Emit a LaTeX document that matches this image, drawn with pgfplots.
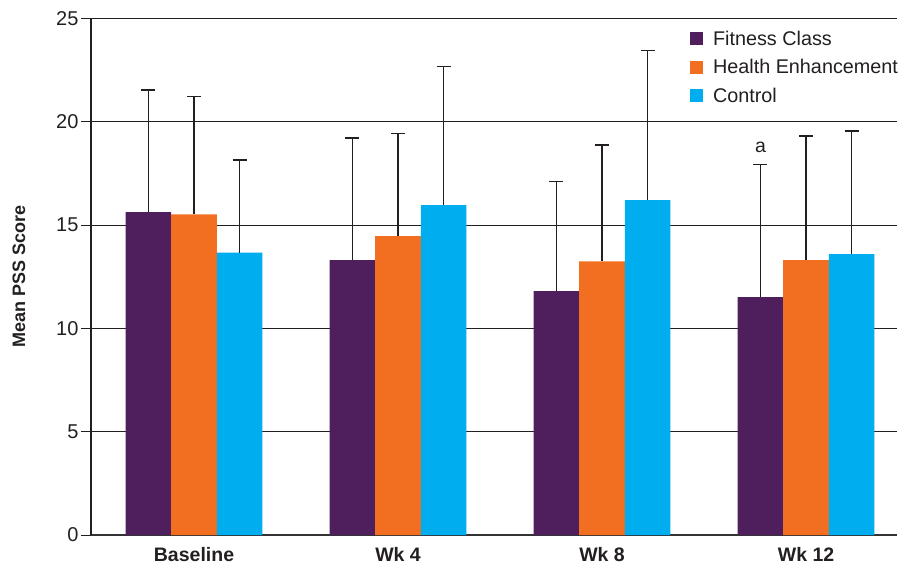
\documentclass[border=0pt]{standalone}
\usepackage{fontspec}
\setmainfont{Liberation Sans}
\usepackage{pgfplots}
\pgfplotsset{compat=1.18}

\definecolor{fitness}{HTML}{4F1F5D}
\definecolor{health}{HTML}{F26F22}
\definecolor{control}{HTML}{00AEEF}
\definecolor{ink}{HTML}{231F20}

\begin{document}
\begin{tikzpicture}[x=1pt,y=1pt]
\useasboundingbox (0,0) rectangle (899,565);
\begin{axis}[
at={(91pt,30pt)},
anchor=south west,
scale only axis,
width=806pt,
height=516.5pt,
xmin=-0.505, xmax=3.446,
ymin=0, ymax=25,
ytick={0,5,10,15,20,25},
xtick={0,1,2,3},
xticklabels={Baseline, Wk 4, Wk 8, Wk 12},
axis x line*=bottom,
axis y line*=left,
axis line style={ink, line width=1.2pt, -},
x axis line style={line width=2pt, color=black!80},
ymajorgrids,
grid style={ink, line width=1pt},
ytick style={ink, line width=1pt},
tick align=outside,
major tick length=10pt,
xtick style={draw=none},
/pgf/number format/assume math mode=true,
yticklabel style={font=\fontsize{20}{20}\selectfont, text=ink, xshift=1pt},
xticklabel style={font=\bfseries\fontsize{19.5}{19.5}\selectfont, text=ink, yshift=1pt},
ylabel={Mean PSS Score},
ylabel style={font=\bfseries\fontsize{18}{18}\selectfont, text=ink, at={(rel axis cs:-0.0893,0.5)}, anchor=center},
bar width=0.2234,
legend style={draw=none, fill=none, at={(rel axis cs:0.743,0.978)}, anchor=north west,
  font=\fontsize{19.8}{19.8}\selectfont, text=ink, inner sep=0pt, row sep=10.5pt, column sep=9pt,
  nodes={inner sep=1pt}},
legend cell align=left,
legend image code/.code={\fill[#1] (0pt,-6.5pt) rectangle (13pt,6.5pt);},
error bars/y dir=plus,
error bars/y explicit,
error bars/error bar style={ink, line width=1.4pt},
error bars/error mark options={ink, line width=1.4pt, mark size=7pt, rotate=90},
]
% Fitness Class
\addplot[ybar, fill=fitness, draw=none, bar shift=0] coordinates {
  (-0.2234, 15.63) +- (0, 5.91)
  (0.7766, 13.30) +- (0, 5.91)
  (1.7766, 11.80) +- (0, 5.32)
  (2.7766, 11.51) +- (0, 6.41)
};
\addlegendentry{Fitness Class}
% Health Enhancement
\addplot[ybar, fill=health, draw=none, bar shift=0] coordinates {
  (0, 15.52) +- (0, 5.70)
  (1, 14.47) +- (0, 4.96)
  (2, 13.25) +- (0, 5.62)
  (3, 13.30) +- (0, 6.01)
};
\addlegendentry{Health Enhancement}
% Control
\addplot[ybar, fill=control, draw=none, bar shift=0] coordinates {
  (0.2234, 13.67) +- (0, 4.48)
  (1.2234, 15.97) +- (0, 6.71)
  (2.2234, 16.21) +- (0, 7.24)
  (3.2234, 13.59) +- (0, 5.96)
};
\addlegendentry{Control}
\node[font=\fontsize{19.5}{19.5}\selectfont, text=ink] at (axis cs:2.7766,18.75) {a};
\end{axis}
\end{tikzpicture}
\end{document}
